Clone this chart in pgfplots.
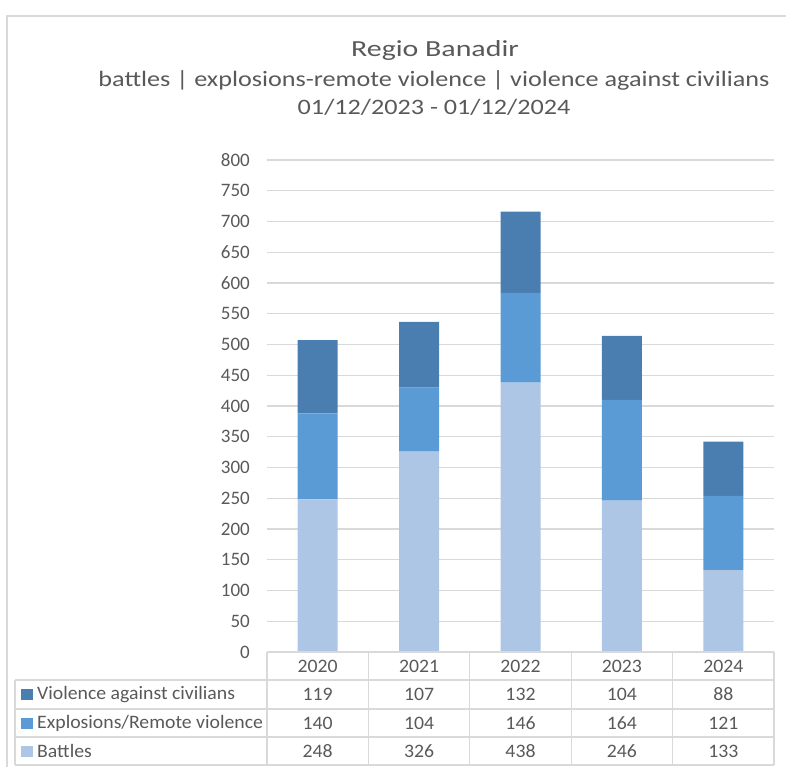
\documentclass[border=0pt]{standalone}
\usepackage{pgfplots}
\pgfplotsset{compat=1.18}
\usepackage{fontspec}
\setmainfont{Carlito}
\definecolor{txt}{HTML}{595959}
\definecolor{gridc}{HTML}{D9D9D9}
\definecolor{vac}{HTML}{4A7EB0}
\definecolor{expl}{HTML}{5B9BD5}
\definecolor{batt}{HTML}{ADC6E5}

\begin{document}
\begin{tikzpicture}[x=1pt,y=1pt]
\path[use as bounding box] (0,0) rectangle (786,-767);
\draw[gridc, line width=1.2pt] (7,-790) -- (7,-16) -- (800,-16);

% titles
\node[txt, font=\fontsize{23}{27}\selectfont\addfontfeature{FakeStretch=1.3}] at (435,-50) {Regio Banadir};
\node[txt, font=\fontsize{22}{26}\selectfont\addfontfeature{FakeStretch=1.19}] at (434,-80) {battles | explosions-remote violence | violence against civilians};
\node[txt, font=\fontsize{22}{26}\selectfont\addfontfeature{FakeStretch=1.19}] at (434,-107) {01/12/2023 - 01/12/2024};

\begin{axis}[
    at={(267pt,-652pt)}, anchor=south west,
    scale only axis, width=507pt, height=492pt,
    ybar stacked, bar width=40pt,
    xmin=-0.5, xmax=4.5, ymin=0, ymax=800,
    ytick={0,50,...,800}, xtick=\empty,
    axis line style={draw=none},
    ymajorgrids, grid style={gridc, line width=1.3pt},
    major tick length=0pt,
    /pgf/number format/assume math mode=true,
    yticklabel style={font=\fontsize{19}{21}\selectfont, text=txt, anchor=east, inner sep=0pt, xshift=-17pt},
]
\addplot[fill=batt, draw=none] coordinates {(0,248) (1,326) (2,438) (3,246) (4,133)};
\addplot[fill=expl, draw=none] coordinates {(0,140) (1,104) (2,146) (3,164) (4,121)};
\addplot[fill=vac, draw=none] coordinates {(0,119) (1,107) (2,132) (3,104) (4,88)};
\end{axis}

% data table
\begin{scope}[gridc, line width=1.2pt]
\draw (267,-652) -- (774,-652);
\foreach \y in {-680,-709,-737,-765} \draw (15,\y) -- (774,\y);
\draw (15,-680) -- (15,-765);
\foreach \x in {267,368.4,469.8,571.2,672.6,774} \draw (\x,-652) -- (\x,-765);
\end{scope}
\begin{scope}[txt, font=\fontsize{19}{21}\selectfont\addfontfeature{FakeStretch=1.04}]
\foreach \v [count=\i from 0] in {2020,2021,2022,2023,2024}
  \node at (317.7+101.4*\i,-666) {\v};
\foreach \v [count=\i from 0] in {119,107,132,104,88}
  \node at (317.7+101.4*\i,-694.5) {\v};
\foreach \v [count=\i from 0] in {140,104,146,164,121}
  \node at (317.7+101.4*\i,-723) {\v};
\foreach \v [count=\i from 0] in {248,326,438,246,133}
  \node at (317.7+101.4*\i,-751) {\v};
\fill[vac] (21,-689) rectangle (33,-700);
\fill[expl] (21,-717.5) rectangle (33,-728.5);
\fill[batt] (21,-745.5) rectangle (33,-756.5);
\node[anchor=west, inner sep=0pt] at (37,-694.5) {Violence against civilians};
\node[anchor=west, inner sep=0pt] at (37,-723) {Explosions/Remote violence};
\node[anchor=west, inner sep=0pt] at (37,-751) {Battles};
\end{scope}
\end{tikzpicture}
\end{document}
